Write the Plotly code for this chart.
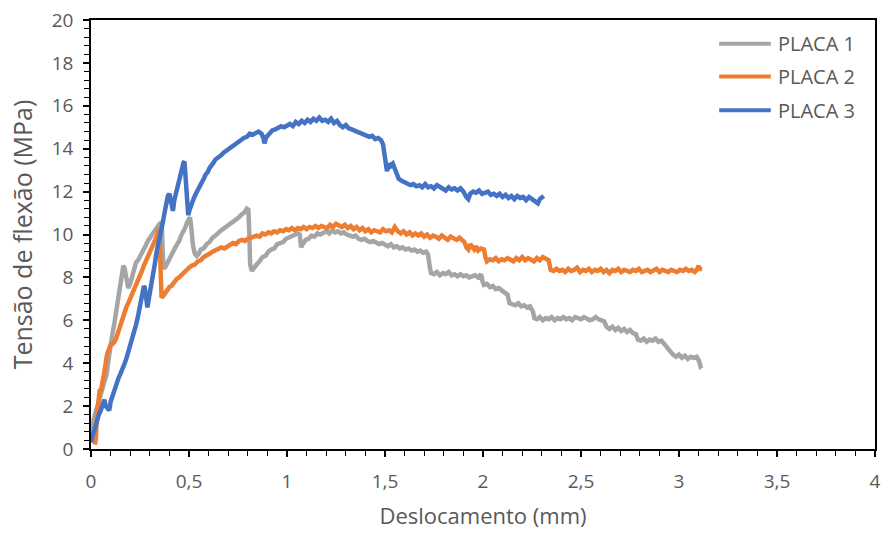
import plotly.graph_objects as go

# ---------------- data ----------------
placa1_x = [0.000,0.005,0.012,0.020,0.030,0.040,0.050,0.060,0.070,0.080,0.090,0.100,0.110,0.120,0.130,0.140,0.150,0.160,0.165,0.172,0.180,0.190,0.200,0.210,0.220,0.230,0.240,0.250,0.260,0.270,0.280,0.290,0.300,0.310,0.320,0.330,0.340,0.350,0.360,0.366,0.370,0.380,0.390,0.400,0.410,0.420,0.430,0.440,0.450,0.460,0.470,0.480,0.490,0.500,0.505,0.512,0.520,0.530,0.540,0.550,0.560,0.575,0.590,0.605,0.620,0.635,0.650,0.665,0.680,0.695,0.710,0.725,0.740,0.755,0.770,0.785,0.795,0.803,0.808,0.812,0.820,0.830,0.845,0.860,0.875,0.890,0.905,0.920,0.935,0.950,0.965,0.980,0.995,1.010,1.025,1.040,1.055,1.065,1.072,1.080,1.095,1.110,1.125,1.140,1.155,1.170,1.185,1.200,1.215,1.230,1.245,1.260,1.275,1.290,1.305,1.320,1.335,1.350,1.365,1.380,1.395,1.410,1.425,1.440,1.455,1.470,1.485,1.500,1.515,1.530,1.545,1.560,1.575,1.590,1.605,1.620,1.635,1.650,1.665,1.680,1.695,1.710,1.720,1.728,1.735,1.750,1.765,1.780,1.795,1.810,1.825,1.840,1.855,1.870,1.885,1.900,1.915,1.930,1.945,1.960,1.975,1.990,1.998,2.005,2.020,2.035,2.050,2.065,2.080,2.095,2.110,2.125,2.135,2.150,2.165,2.180,2.195,2.210,2.225,2.240,2.255,2.262,2.275,2.290,2.305,2.320,2.335,2.350,2.365,2.380,2.395,2.410,2.425,2.440,2.455,2.470,2.485,2.500,2.515,2.530,2.545,2.560,2.575,2.590,2.605,2.618,2.630,2.645,2.660,2.675,2.690,2.705,2.720,2.735,2.750,2.765,2.780,2.790,2.805,2.820,2.835,2.850,2.865,2.880,2.895,2.910,2.925,2.940,2.955,2.970,2.985,3.000,3.015,3.030,3.045,3.060,3.075,3.090,3.100,3.110,3.117]
placa1_y = [0.50,0.90,1.30,1.60,1.90,2.20,2.60,2.90,3.20,3.50,4.20,5.00,5.40,5.90,6.50,6.80,7.40,8.00,8.55,8.40,8.00,7.50,7.70,8.00,8.40,8.70,8.80,8.95,9.20,9.30,9.50,9.70,9.85,10.00,10.10,10.25,10.40,10.50,10.55,9.20,8.40,8.50,8.70,8.90,9.00,9.25,9.40,9.55,9.70,9.95,10.10,10.30,10.55,10.75,10.80,10.30,9.50,9.10,9.00,9.10,9.30,9.35,9.55,9.65,9.85,9.95,10.10,10.20,10.30,10.40,10.50,10.60,10.65,10.80,10.95,11.05,11.20,11.15,10.00,8.60,8.30,8.45,8.60,8.75,8.95,9.00,9.20,9.30,9.35,9.55,9.60,9.65,9.80,9.85,9.90,9.95,10.05,10.00,9.40,9.55,9.75,9.80,9.95,9.90,10.05,10.00,10.10,10.15,10.05,10.20,10.10,10.15,10.05,10.10,10.00,9.95,9.90,9.95,9.80,9.75,9.80,9.70,9.65,9.70,9.60,9.55,9.60,9.50,9.45,9.55,9.40,9.45,9.35,9.40,9.30,9.35,9.25,9.30,9.20,9.25,9.15,9.20,9.05,8.50,8.20,8.15,8.25,8.10,8.20,8.15,8.25,8.10,8.15,8.05,8.15,8.05,8.10,8.00,8.05,8.10,8.00,8.15,7.80,7.65,7.70,7.55,7.60,7.45,7.50,7.40,7.35,7.20,6.80,6.75,6.70,6.80,6.65,6.70,6.60,6.65,6.40,6.10,6.05,6.15,6.00,6.10,6.05,6.15,6.00,6.10,6.05,6.15,6.05,6.10,6.00,6.15,6.10,6.05,6.15,6.10,6.00,6.05,6.15,6.05,6.00,5.95,5.70,5.60,5.70,5.55,5.65,5.50,5.60,5.45,5.55,5.40,5.35,5.10,5.05,5.15,5.00,5.10,5.05,5.15,5.00,5.05,4.90,4.70,4.55,4.40,4.30,4.40,4.25,4.35,4.20,4.30,4.25,4.30,4.15,3.85,3.90]

placa2_x = [0.020,0.025,0.030,0.035,0.040,0.045,0.050,0.055,0.060,0.065,0.070,0.075,0.080,0.085,0.090,0.095,0.100,0.110,0.120,0.130,0.140,0.150,0.160,0.170,0.180,0.190,0.200,0.210,0.220,0.230,0.240,0.250,0.260,0.270,0.280,0.290,0.300,0.310,0.320,0.330,0.340,0.348,0.352,0.356,0.360,0.370,0.380,0.390,0.400,0.410,0.420,0.430,0.440,0.450,0.460,0.470,0.480,0.490,0.500,0.515,0.530,0.545,0.560,0.575,0.590,0.605,0.620,0.635,0.650,0.665,0.680,0.695,0.710,0.725,0.740,0.755,0.770,0.785,0.800,0.815,0.830,0.845,0.860,0.875,0.890,0.905,0.920,0.935,0.950,0.965,0.980,0.995,1.010,1.025,1.040,1.055,1.070,1.085,1.100,1.115,1.130,1.145,1.160,1.175,1.190,1.205,1.220,1.235,1.250,1.265,1.280,1.295,1.310,1.325,1.340,1.355,1.370,1.385,1.400,1.415,1.430,1.445,1.460,1.475,1.490,1.505,1.520,1.535,1.550,1.565,1.580,1.595,1.610,1.625,1.640,1.655,1.670,1.685,1.700,1.715,1.730,1.745,1.760,1.775,1.790,1.805,1.820,1.835,1.850,1.865,1.880,1.895,1.905,1.915,1.925,1.935,1.945,1.955,1.965,1.975,1.990,2.005,2.012,2.020,2.035,2.050,2.065,2.080,2.095,2.110,2.125,2.140,2.155,2.170,2.185,2.200,2.215,2.230,2.245,2.260,2.275,2.290,2.305,2.320,2.335,2.345,2.360,2.375,2.390,2.405,2.420,2.435,2.450,2.465,2.480,2.495,2.510,2.525,2.540,2.555,2.570,2.585,2.600,2.615,2.630,2.645,2.660,2.675,2.690,2.705,2.720,2.735,2.750,2.765,2.780,2.795,2.810,2.825,2.840,2.855,2.870,2.885,2.900,2.915,2.930,2.945,2.960,2.975,2.990,3.005,3.020,3.035,3.050,3.065,3.080,3.090,3.100,3.105,3.108]
placa2_y = [0.20,0.50,1.50,2.00,2.40,2.80,2.70,3.10,3.20,3.40,3.80,4.10,4.30,4.50,4.60,4.80,4.85,4.90,5.00,5.20,5.50,5.80,6.10,6.30,6.60,6.80,7.00,7.20,7.40,7.70,7.85,8.10,8.30,8.55,8.75,8.95,9.20,9.35,9.60,9.80,10.00,10.25,9.00,7.30,7.05,7.15,7.30,7.35,7.55,7.60,7.75,7.80,7.95,8.00,8.10,8.20,8.30,8.35,8.45,8.55,8.60,8.75,8.80,8.95,9.00,9.10,9.20,9.25,9.30,9.40,9.35,9.45,9.50,9.60,9.55,9.70,9.75,9.70,9.80,9.85,9.90,9.95,9.90,10.05,10.00,10.10,10.05,10.15,10.10,10.20,10.15,10.25,10.20,10.30,10.20,10.30,10.25,10.35,10.25,10.35,10.30,10.40,10.30,10.40,10.35,10.30,10.45,10.35,10.50,10.40,10.35,10.45,10.30,10.40,10.25,10.35,10.20,10.30,10.15,10.25,10.10,10.20,10.15,10.10,10.25,10.15,10.20,10.10,10.35,10.15,10.05,10.15,10.00,10.10,9.95,10.05,9.95,10.05,9.90,10.00,9.85,9.95,9.90,9.80,9.95,9.85,9.75,9.90,9.80,9.75,9.85,9.70,9.65,9.40,9.30,9.55,9.45,9.30,9.45,9.25,9.35,9.30,8.95,8.75,8.85,8.80,8.90,8.75,8.85,8.80,8.90,8.85,8.75,8.90,8.80,8.95,8.80,8.90,8.85,8.75,8.90,8.80,8.95,8.85,8.80,8.35,8.30,8.40,8.30,8.35,8.25,8.40,8.30,8.35,8.45,8.25,8.35,8.30,8.40,8.25,8.35,8.30,8.40,8.25,8.35,8.20,8.35,8.30,8.40,8.25,8.35,8.30,8.25,8.35,8.30,8.40,8.25,8.30,8.35,8.25,8.30,8.40,8.25,8.35,8.30,8.25,8.35,8.30,8.25,8.35,8.30,8.40,8.30,8.35,8.25,8.35,8.55,8.30,8.50]

placa3_x = [0.000,0.005,0.010,0.015,0.020,0.025,0.030,0.040,0.050,0.060,0.068,0.075,0.085,0.093,0.100,0.110,0.120,0.130,0.140,0.150,0.160,0.170,0.180,0.190,0.200,0.210,0.220,0.230,0.240,0.250,0.260,0.270,0.275,0.282,0.288,0.295,0.305,0.315,0.325,0.335,0.345,0.355,0.365,0.375,0.385,0.392,0.400,0.410,0.418,0.425,0.435,0.445,0.455,0.465,0.472,0.477,0.483,0.490,0.496,0.505,0.515,0.525,0.535,0.545,0.555,0.565,0.575,0.585,0.595,0.605,0.615,0.625,0.635,0.645,0.655,0.665,0.675,0.690,0.705,0.720,0.735,0.750,0.765,0.780,0.795,0.810,0.825,0.840,0.855,0.870,0.880,0.885,0.895,0.910,0.925,0.940,0.955,0.970,0.985,1.000,1.015,1.030,1.045,1.060,1.075,1.090,1.105,1.120,1.135,1.150,1.165,1.180,1.195,1.210,1.225,1.240,1.255,1.270,1.285,1.300,1.315,1.330,1.345,1.360,1.375,1.390,1.405,1.420,1.435,1.450,1.465,1.480,1.490,1.497,1.503,1.510,1.520,1.530,1.540,1.550,1.560,1.570,1.585,1.600,1.615,1.630,1.645,1.660,1.675,1.690,1.705,1.720,1.735,1.750,1.765,1.780,1.795,1.810,1.825,1.840,1.855,1.870,1.885,1.900,1.915,1.925,1.935,1.950,1.965,1.980,1.995,2.010,2.025,2.040,2.055,2.070,2.085,2.100,2.115,2.130,2.145,2.160,2.175,2.190,2.205,2.220,2.235,2.250,2.265,2.280,2.290,2.300,2.310]
placa3_y = [0.30,0.60,0.70,0.80,1.00,1.10,1.30,1.60,1.80,2.20,2.30,2.00,1.85,1.80,2.20,2.50,2.70,3.00,3.30,3.50,3.80,3.95,4.20,4.50,4.80,5.10,5.50,5.80,6.20,6.60,7.00,7.60,7.50,6.90,6.60,7.00,7.50,7.90,8.60,9.20,9.60,9.90,10.50,11.00,11.60,11.80,11.90,11.50,11.10,11.60,12.00,12.40,12.70,13.00,13.35,13.40,12.50,11.40,10.90,11.20,11.50,11.70,11.90,12.05,12.20,12.40,12.60,12.80,12.90,13.10,13.20,13.35,13.50,13.55,13.60,13.70,13.80,13.90,14.00,14.15,14.20,14.35,14.40,14.50,14.55,14.70,14.65,14.75,14.80,14.70,14.50,14.25,14.55,14.70,14.85,14.90,14.95,15.05,15.00,15.10,15.15,15.05,15.25,15.15,15.30,15.20,15.35,15.25,15.40,15.30,15.45,15.30,15.35,15.25,15.40,15.20,15.30,15.10,15.00,15.10,14.95,14.90,14.85,14.75,14.70,14.65,14.60,14.55,14.60,14.45,14.50,14.40,14.20,13.80,13.20,12.95,13.30,13.20,13.30,13.10,12.80,12.60,12.50,12.45,12.40,12.30,12.35,12.25,12.30,12.20,12.35,12.20,12.25,12.15,12.30,12.20,12.15,12.05,12.20,12.10,12.15,12.05,12.15,12.00,11.75,11.65,11.90,12.00,11.95,12.05,11.90,11.95,12.00,11.85,11.90,11.80,11.90,11.75,11.85,11.70,11.80,11.65,11.80,11.70,11.75,11.60,11.75,11.65,11.55,11.45,11.65,11.70,11.80]

series_names = ["PLACA 1", "PLACA 2", "PLACA 3"]
series_colors = ["#A5A5A5", "#ED7D31", "#4472C4"]
x_title = "Deslocamento (mm)"
y_title = "Tensão de flexão (MPa)"

# ---------------- figure ----------------
W, H = 888, 533
ML, MR, MT, MB = 91, 7, 17, 84
FONT = "'Open Sans', Lato, sans-serif"
TXT = "#595959"

fig = go.Figure()
for xs, ys, name, col in zip([placa1_x, placa2_x, placa3_x],
                             [placa1_y, placa2_y, placa3_y],
                             series_names, series_colors):
    fig.add_trace(go.Scatter(x=xs, y=ys, mode="lines", name=name,
                             line=dict(color=col, width=4.5), showlegend=False))

# custom legend (Excel style, long line samples)
pw = W - ML - MR
ph = H - MT - MB
def px2paper_x(px):
    return (px - ML) / pw
def px2paper_y(py):
    return (H - MB - py) / ph

legend_rows = [41, 74, 108]
for name, col, py in zip(series_names, series_colors, legend_rows):
    fig.add_shape(type="line", xref="paper", yref="paper",
                  x0=px2paper_x(724), x1=px2paper_x(776),
                  y0=px2paper_y(py), y1=px2paper_y(py),
                  line=dict(color=col, width=4))
    fig.add_annotation(xref="paper", yref="paper", x=px2paper_x(781), y=px2paper_y(py),
                       text=name, showarrow=False, xanchor="left", yanchor="middle",
                       font=dict(family=FONT, size=20, color=TXT))

axis_common = dict(showgrid=False, zeroline=False, showline=True, linecolor="#000000",
                   linewidth=1.5, mirror=True, ticks="outside", tickcolor="#000000",
                   tickwidth=1.5, ticklen=6,
                   tickfont=dict(family=FONT, size=19, color=TXT))

fig.update_xaxes(range=[0, 4], dtick=0.5, tick0=0, ticklabelstandoff=8,
                 minor=dict(dtick=0.1, ticks="outside", ticklen=5, tickcolor="#000000", tickwidth=1.2),
                 title=dict(text=x_title, font=dict(family=FONT, size=22, color=TXT), standoff=16),
                 **axis_common)
fig.update_yaxes(range=[0, 20], dtick=2, tick0=0, ticklabelstandoff=6,
                 minor=dict(dtick=0.4, ticks="outside", ticklen=5, tickcolor="#000000", tickwidth=1.2),
                 title=dict(text=y_title, font=dict(family=FONT, size=25, color=TXT), standoff=12),
                 **axis_common)

fig.update_layout(width=W, height=H, autosize=False,
                  margin=dict(l=ML, r=MR, t=MT, b=MB),
                  paper_bgcolor="white", plot_bgcolor="white",
                  separators=",.",
                  font=dict(family=FONT, color=TXT))

fig.write_html("out.html")
